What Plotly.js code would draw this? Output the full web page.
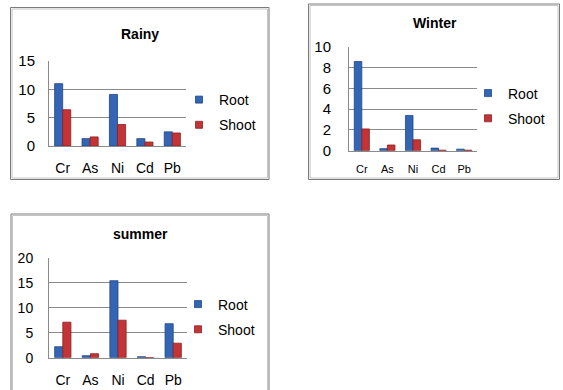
<!DOCTYPE html>
<html>
<head>
<meta charset="utf-8">
<script src="https://cdn.plot.ly/plotly-3.0.1.min.js"></script>
<style>html,body{margin:0;padding:0;background:#fff;}#chart{width:563px;height:390px;}</style>
</head>
<body>
<div id="chart"></div>
<script>
// ---- data ----
var elements = ["Cr", "As", "Ni", "Cd", "Pb"];
var seriesNames = ["Root", "Shoot"];
var rainyRoot = [11.0, 1.3, 9.1, 1.3, 2.5];
var rainyShoot = [6.4, 1.6, 3.8, 0.7, 2.3];
var winterRoot = [8.6, 0.2, 3.4, 0.25, 0.15];
var winterShoot = [2.1, 0.55, 1.05, 0.05, 0.05];
var summerRoot = [2.2, 0.4, 15.4, 0.2, 6.8];
var summerShoot = [7.1, 0.8, 7.5, 0.0, 2.9];
var panelTitles = ["Rainy", "Winter", "summer"];

// ---- layout helpers (pixel -> paper) ----
var W = 563, H = 390;
function px(x) { return x / W; }
function py(y) { return 1 - y / H; }

var FONT = "Liberation Sans, Arial, sans-serif";
var rootColor = "#3465b4", rootLine = "#1f4685";
var shootColor = "#c43436", shootLine = "#8a1f20";
var gridColor = "#8a8a8a";

function bar(name, x, y, xa, ya) {
  var isRoot = name === seriesNames[0];
  return {
    type: "bar", name: name, x: x, y: y, xaxis: xa, yaxis: ya, showlegend: false,
    marker: { color: isRoot ? rootColor : shootColor,
              line: { color: isRoot ? rootLine : shootLine, width: 0.8 } },
    hoverinfo: "x+y+name"
  };
}
// legend-only entries (small square keys like the original)
function key(name, xa, ya, leg, grp) {
  var isRoot = name === seriesNames[0];
  return {
    type: "scatter", mode: "markers", name: name, x: [null], y: [null], xaxis: xa, yaxis: ya,
    legend: leg, legendgroup: grp, showlegend: true, hoverinfo: "skip",
    marker: { symbol: "square", size: 7, color: isRoot ? rootColor : shootColor,
              line: { color: isRoot ? rootLine : shootLine, width: 0.8 } }
  };
}

var data = [
  bar(seriesNames[0], elements, rainyRoot, "x", "y"),
  bar(seriesNames[1], elements, rainyShoot, "x", "y"),
  bar(seriesNames[0], elements, winterRoot, "x2", "y2"),
  bar(seriesNames[1], elements, winterShoot, "x2", "y2"),
  bar(seriesNames[0], elements, summerRoot, "x3", "y3"),
  bar(seriesNames[1], elements, summerShoot, "x3", "y3"),
  key(seriesNames[0], "x", "y", "legend", "r1"),
  key(seriesNames[1], "x", "y", "legend", "r2"),
  key(seriesNames[0], "x2", "y2", "legend2", "w1"),
  key(seriesNames[1], "x2", "y2", "legend2", "w2"),
  key(seriesNames[0], "x3", "y3", "legend3", "s1"),
  key(seriesNames[1], "x3", "y3", "legend3", "s2")
];

function xax(d, anchor, fs, stand) {
  return { domain: d, anchor: anchor, showline: true, linecolor: gridColor, linewidth: 1,
           showgrid: false, ticks: "", tickfont: { family: FONT, size: fs, color: "#000" },
           ticklabelstandoff: stand, fixedrange: true, type: "category" };
}
function yax(d, anchor, range, dtick, fs, stand) {
  return { domain: d, anchor: anchor, range: range, dtick: dtick, tick0: 0,
           showline: true, linecolor: gridColor, linewidth: 1,
           showgrid: true, gridcolor: gridColor, gridwidth: 1, zeroline: false,
           ticks: "", tickfont: { family: FONT, size: fs, color: "#000" },
           ticklabelstandoff: stand, fixedrange: true };
}
function leg(x, y) {
  return { x: x, y: y, xanchor: "left", yanchor: "middle", xref: "paper", yref: "paper",
           font: { family: FONT, size: 14, color: "#000" }, bgcolor: "rgba(0,0,0,0)",
           tracegroupgap: 4, itemclick: false, itemdoubleclick: false };
}
function frame(x0, y0, x1, y1) {
  return [
    { type: "rect", xref: "paper", yref: "paper", x0: px(x0), x1: px(x1), y0: py(y0), y1: py(y1),
      line: { color: "#7a7a7a", width: 1 }, layer: "below" },
    { type: "rect", xref: "paper", yref: "paper", x0: px(x0 + 1.5), x1: px(x1 - 1.5), y0: py(y0 + 1.5), y1: py(y1 - 1.5),
      line: { color: "#c4c4c4", width: 1 }, layer: "below" }
  ];
}
function ttl(text, x, y) {
  return { text: "<b>" + text + "</b>", xref: "paper", yref: "paper", x: px(x), y: py(y),
           xanchor: "center", yanchor: "middle", showarrow: false,
           font: { family: FONT, size: 14, color: "#000" } };
}

var layout = {
  width: W, height: H, margin: { l: 0, r: 0, t: 0, b: 0 },
  paper_bgcolor: "#fff", plot_bgcolor: "rgba(0,0,0,0)",
  barmode: "group", bargap: 0.41, bargroupgap: 0,
  xaxis: xax([px(49), px(186)], "y", 14, 9),
  yaxis: yax([py(146), py(61)], "x", [0, 15], 5, 15, 10),
  xaxis2: xax([px(349), px(477)], "y2", 11, 8),
  yaxis2: yax([py(150.7), py(47)], "x2", [0, 10], 2, 15, 14),
  xaxis3: xax([px(49), px(187)], "y3", 14, 9),
  yaxis3: yax([py(357.7), py(257.7)], "x3", [0, 20], 5, 14, 12),
  legend: leg(px(179), py(112.5)),
  legend2: leg(px(468), py(106)),
  legend3: leg(px(178), py(317)),
  showlegend: true,
  annotations: [ttl(panelTitles[0], 140, 34), ttl(panelTitles[1], 434.5, 23), ttl(panelTitles[2], 140, 234)],
  shapes: [].concat(frame(10.5, 7.5, 269, 179.5), frame(308.5, 4, 559.5, 179.5), frame(11, 214, 269, 400))
};

Plotly.newPlot("chart", data, layout, { displayModeBar: false });
</script>
</body>
</html>
